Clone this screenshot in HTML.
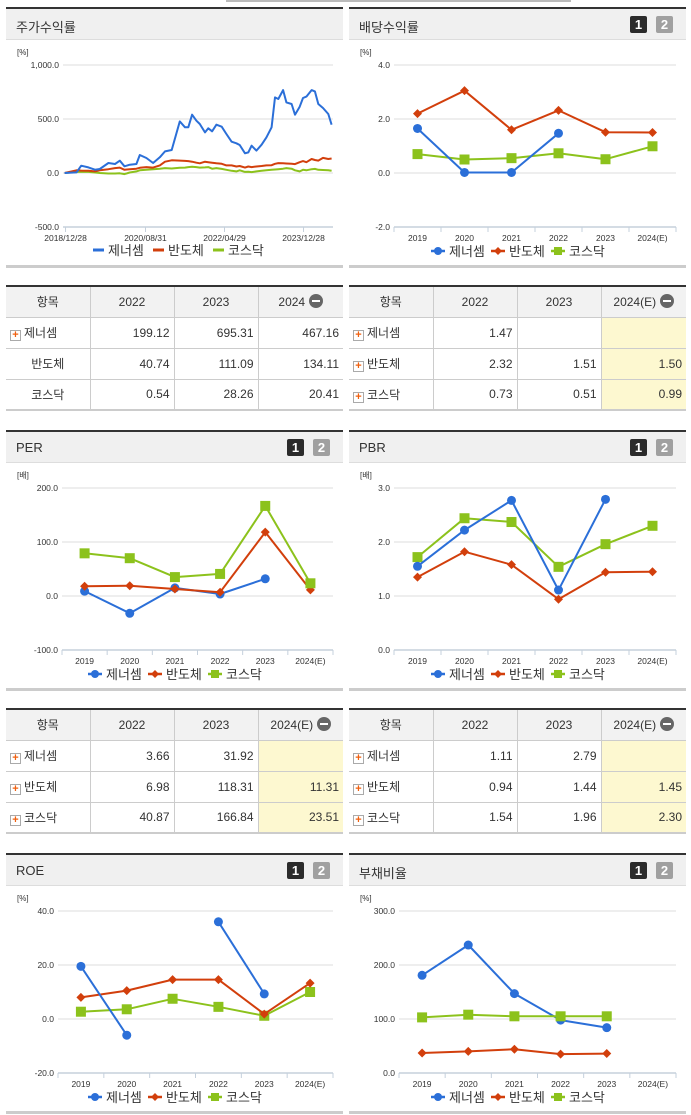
<!DOCTYPE html>
<html><head><meta charset="utf-8">
<style>
*{margin:0;padding:0;box-sizing:border-box}
body{width:691px;height:1115px;background:#fff;position:relative;overflow:hidden;font-family:"Liberation Sans","Noto Sans CJK KR",sans-serif;color:#333}
.panel{position:absolute;border-top:2px solid #333;border-bottom:3px solid #ccc}
.hdr{position:absolute;left:0;right:0;top:0;height:31px;background:#f0f0f0;border-bottom:1px solid #ddd}
.hdr .t{position:absolute;left:10px;top:8px;font-size:13px;color:#333}
.bd{position:absolute;top:7px;width:17px;height:17px;color:#fff;font-size:13px;font-weight:bold;text-align:center;line-height:17px;border-radius:2px}
.b1{background:#2b2b2b}.b2{background:#a0a0a0}
svg{position:absolute;left:0;top:0}
table{position:absolute;border-collapse:collapse;border-top:2px solid #333;border-bottom:2px solid #ccc;font-size:12px;table-layout:fixed}
td,th{height:31px;border-bottom:1px solid #ccc;border-right:1px solid #ccc;font-weight:normal}
th{background:#f2f2f2;text-align:center}
td{text-align:right;padding-right:4px}
td:last-child,th:last-child{border-right:none}
td.n{text-align:left;padding-left:4px}
td.c{text-align:center;padding:0}
.y{background:#fdf8d0}
.pl{display:inline-block;width:11px;height:11px;border:1px solid #aaa;background:#fff;color:#f06010;font-size:11px;line-height:9px;text-align:center;font-weight:bold;vertical-align:-1px;margin-right:3px}
.mi{display:inline-block;width:14px;height:14px;border-radius:7px;background:#666;vertical-align:-2px;position:relative;margin-left:4px}
.mi:after{content:"";position:absolute;left:3px;top:6px;width:8px;height:2px;background:#fff}
</style></head><body>
<div style="position:absolute;left:226px;top:0;width:345px;height:2px;background:#bbb"></div>

<div id="p1" class="panel" style="left:6px;top:7px;width:337px;height:261px"><div class="hdr"><span class="t">주가수익률</span></div></div>
<div id="p2" class="panel" style="left:349px;top:7px;width:337px;height:261px"><div class="hdr"><span class="t">배당수익률</span><span class="bd b1" style="left:281px">1</span><span class="bd b2" style="left:307px">2</span></div></div>
<div id="p3" class="panel" style="left:6px;top:430px;width:337px;height:261px"><div class="hdr"><span class="t">PER</span><span class="bd b1" style="left:281px">1</span><span class="bd b2" style="left:307px">2</span></div></div>
<div id="p4" class="panel" style="left:349px;top:430px;width:337px;height:261px"><div class="hdr"><span class="t">PBR</span><span class="bd b1" style="left:281px">1</span><span class="bd b2" style="left:307px">2</span></div></div>
<div id="p5" class="panel" style="left:6px;top:853px;width:337px;height:261px"><div class="hdr"><span class="t">ROE</span><span class="bd b1" style="left:281px">1</span><span class="bd b2" style="left:307px">2</span></div></div>
<div id="p6" class="panel" style="left:349px;top:853px;width:337px;height:261px"><div class="hdr"><span class="t">부채비율</span><span class="bd b1" style="left:281px">1</span><span class="bd b2" style="left:307px">2</span></div></div>

<table style="left:6px;top:285px;width:337px">
<colgroup><col style="width:84px"><col style="width:84px"><col style="width:84px"><col style="width:85px"></colgroup>
<tr><th>항목</th><th>2022</th><th>2023</th><th>2024<span class="mi"></span></th></tr>
<tr><td class="n"><span class="pl">+</span>제너셈</td><td>199.12</td><td>695.31</td><td>467.16</td></tr>
<tr><td class="c">반도체</td><td>40.74</td><td>111.09</td><td>134.11</td></tr>
<tr><td class="c">코스닥</td><td>0.54</td><td>28.26</td><td>20.41</td></tr>
</table>
<table style="left:349px;top:285px;width:337px">
<colgroup><col style="width:84px"><col style="width:84px"><col style="width:84px"><col style="width:85px"></colgroup>
<tr><th>항목</th><th>2022</th><th>2023</th><th>2024(E)<span class="mi"></span></th></tr>
<tr><td class="n"><span class="pl">+</span>제너셈</td><td>1.47</td><td></td><td class="y"></td></tr>
<tr><td class="n"><span class="pl">+</span>반도체</td><td>2.32</td><td>1.51</td><td class="y">1.50</td></tr>
<tr><td class="n"><span class="pl">+</span>코스닥</td><td>0.73</td><td>0.51</td><td class="y">0.99</td></tr>
</table>
<table style="left:6px;top:708px;width:337px">
<colgroup><col style="width:84px"><col style="width:84px"><col style="width:84px"><col style="width:85px"></colgroup>
<tr><th>항목</th><th>2022</th><th>2023</th><th>2024(E)<span class="mi"></span></th></tr>
<tr><td class="n"><span class="pl">+</span>제너셈</td><td>3.66</td><td>31.92</td><td class="y"></td></tr>
<tr><td class="n"><span class="pl">+</span>반도체</td><td>6.98</td><td>118.31</td><td class="y">11.31</td></tr>
<tr><td class="n"><span class="pl">+</span>코스닥</td><td>40.87</td><td>166.84</td><td class="y">23.51</td></tr>
</table>
<table style="left:349px;top:708px;width:337px">
<colgroup><col style="width:84px"><col style="width:84px"><col style="width:84px"><col style="width:85px"></colgroup>
<tr><th>항목</th><th>2022</th><th>2023</th><th>2024(E)<span class="mi"></span></th></tr>
<tr><td class="n"><span class="pl">+</span>제너셈</td><td>1.11</td><td>2.79</td><td class="y"></td></tr>
<tr><td class="n"><span class="pl">+</span>반도체</td><td>0.94</td><td>1.44</td><td class="y">1.45</td></tr>
<tr><td class="n"><span class="pl">+</span>코스닥</td><td>1.54</td><td>1.96</td><td class="y">2.30</td></tr>
</table>

<script>
// ---- stock return data ----
const stockDates=[2018.97,2019.22,2019.32,2019.47,2019.61,2019.71,2019.89,2020.03,2020.13,2020.23,2020.34,2020.48,2020.55,2020.69,2020.83,2020.97,2021.08,2021.22,2021.39,2021.50,2021.57,2021.65,2021.74,2021.81,2021.92,2021.99,2022.07,2022.16,2022.27,2022.37,2022.48,2022.58,2022.65,2022.76,2022.83,2022.90,2023.00,2023.11,2023.21,2023.32,2023.39,2023.46,2023.56,2023.63,2023.74,2023.81,2023.91,2023.98,2024.05,2024.16,2024.23,2024.30,2024.40,2024.51,2024.58];
const stockGenesem=[0,6,68,52,31,37,93,83,114,62,77,83,167,139,93,145,200,213,478,423,423,540,484,454,376,414,386,447,429,361,290,275,259,182,191,253,207,262,330,423,700,685,768,654,639,540,614,694,707,768,756,639,602,546,447];
const stockSemi=[0,25,22,20,15,25,35,45,50,30,35,40,48,55,50,70,105,118,115,112,110,105,95,90,105,100,95,90,85,70,70,60,65,50,60,55,60,65,70,72,85,92,90,88,85,82,100,110,100,130,120,115,140,130,134];
const stockKosdaq=[0,10,12,10,5,0,-5,-5,-3,-10,5,15,25,30,35,40,45,42,48,50,55,58,55,50,52,55,40,45,38,30,20,15,25,10,12,8,15,20,25,30,32,35,40,45,40,25,15,30,25,35,38,30,28,25,20];
const stockTickLabels=["2018/12/28","2020/08/31","2022/04/29","2023/12/28"];
const stockTickDates=[2018.99,2020.67,2022.33,2023.99];
const stockYTicks=[1000,500,0,-500];
const stockYLabels=["1,000.0","500.0","0.0","-500.0"];
// ---- annual charts ----
const years=["2019","2020","2021","2022","2023","2024(E)"];
const divGenesem=[1.65,0.02,0.02,1.47,null,null];
const divSemi=[2.2,3.05,1.6,2.32,1.51,1.50];
const divKosdaq=[0.7,0.5,0.55,0.73,0.51,0.99];
const divTicks=[4,2,0,-2];
const perGenesem=[9,-32,15,3.66,31.92,null];
const perSemi=[18,19,13,6.98,118.31,11.31];
const perKosdaq=[79,70,35,40.87,166.84,23.51];
const perTicks=[200,100,0,-100];
const pbrGenesem=[1.55,2.22,2.77,1.11,2.79,null];
const pbrSemi=[1.35,1.82,1.58,0.94,1.44,1.45];
const pbrKosdaq=[1.72,2.44,2.37,1.54,1.96,2.30];
const pbrTicks=[3,2,1,0];
const roeGenesem=[19.5,-6,null,36,9.3,null];
const roeSemi=[8,10.5,14.6,14.6,1.8,13.3];
const roeKosdaq=[2.7,3.6,7.5,4.5,1.2,10];
const roeTicks=[40,20,0,-20];
const debtGenesem=[181,237,147,98,84,null];
const debtSemi=[37,40,44,35,36,null];
const debtKosdaq=[103,108,105,105,105,null];
const debtTicks=[300,200,0+100,0];

const NS="http://www.w3.org/2000/svg";
const COL={b:"#2b6fd8",r:"#d23f0c",g:"#8cc21c"};
function mk(tag,attrs,parent){const e=document.createElementNS(NS,tag);for(const k in attrs)e.setAttribute(k,attrs[k]);if(parent)parent.appendChild(e);return e;}
function txt(parent,x,y,s,size,anchor,fill){const t=mk("text",{x:x,y:y,"font-size":size,"text-anchor":anchor||"start",fill:fill||"#333","font-family":"Liberation Sans, Noto Sans CJK KR, sans-serif"},parent);t.textContent=s;return t;}

function baseSvg(panelId){
  const p=document.getElementById(panelId);
  const s=mk("svg",{width:337,height:256},p);
  
  
  return s;
}
function legend(s,cx,y){
  const items=[["b","제너셈"],["r","반도체"],["g","코스닥"]];
  const g=mk("g",{},s);
  
  
  let x=cx-88;
  items.forEach(([c,l],i)=>{
    const it=mk("g",{},g);
    
    
    mk("line",{x1:x,y1:y,x2:x+14,y2:y,stroke:COL[c],"stroke-width":2.5},it);
    if(c==="b")mk("circle",{cx:x+7,cy:y,r:4,fill:COL.b},it);
    if(c==="r")mk("path",{d:`M${x+7} ${y-4}L${x+11} ${y}L${x+7} ${y+4}L${x+3} ${y}Z`,fill:COL.r},it);
    if(c==="g")mk("rect",{x:x+3,y:y-4,width:8,height:8,fill:COL.g},it);
    txt(it,x+18,y+5,l,13);
    x+=60;
  });
}
function marker(g,c,x,y){
  let m;
  if(c==="b")m=mk("circle",{cx:x,cy:y,r:4.5,fill:COL.b},g);
  if(c==="r")m=mk("path",{d:`M${x} ${y-4.5}L${x+4.5} ${y}L${x} ${y+4.5}L${x-4.5} ${y}Z`,fill:COL.r},g);
  if(c==="g")m=mk("rect",{x:x-5,y:y-5,width:10,height:10,fill:COL.g},g);
  
  
}
// annual chart: plot area top=56 bottom=218 (panel coords)
function annual(panelId,unit,ticks,pl,series){
  const s=baseSvg(panelId);
  const pr=327, top=56, bot=218;
  const vmax=ticks[0], vmin=ticks[ticks.length-1];
  const Y=v=>top+(vmax-v)/(vmax-vmin)*(bot-top);
  const bw=(pr-pl)/years.length;
  const X=i=>pl+(i+0.5)*bw;
  txt(s,11,46,unit,8);
  ticks.forEach(t=>{
    const gl=mk("line",{x1:pl,x2:pr,y1:Y(t),y2:Y(t),stroke:"#dcdcdc","stroke-width":1},s);
    
    
    const lb=txt(s,pl-4,Y(t)+3,t.toFixed(1),8.5,"end");
    
    
  });
  mk("line",{x1:pl,x2:pr,y1:bot,y2:bot,stroke:"#c5d0dc","stroke-width":1.5},s);
  for(let i=0;i<=years.length;i++)mk("line",{x1:pl+i*bw,x2:pl+i*bw,y1:bot,y2:bot+5,stroke:"#c5d0dc"},s);
  years.forEach((y,i)=>{const l=txt(s,X(i),bot+14,y,8.5,"middle");});
  series.forEach(([c,vals])=>{
    const g=mk("g",{},s);
    
    
    let d="",pen=false;
    vals.forEach((v,i)=>{if(v===null){pen=false;return;}d+=(pen?"L":"M")+X(i).toFixed(1)+" "+Y(v).toFixed(1);pen=true;});
    mk("path",{d:d,fill:"none",stroke:COL[c],"stroke-width":2,"stroke-linejoin":"round"},g);
    vals.forEach((v,i)=>{if(v!==null)marker(g,c,X(i),Y(v));});
  });
  legend(s,170,242);
}
// stock chart
(function(){
  const s=baseSvg("p1");
  const pl=57, pr=327, top=56, bot=218;
  const Y=v=>top+(1000-v)/1500*(bot-top);
  const X=d=>60+(d-2019.0)*47.6;
  txt(s,11,46,"[%]",8);
  stockYTicks.forEach((t,i)=>{
    mk("line",{x1:pl,x2:pr,y1:Y(t),y2:Y(t),stroke:"#dcdcdc"},s);
    const lb=txt(s,pl-4,Y(t)+3,stockYLabels[i],8.5,"end");
    
    
  });
  mk("line",{x1:pl,x2:pr,y1:bot,y2:bot,stroke:"#c5d0dc","stroke-width":1.5},s);
  stockTickDates.forEach((d,i)=>{
    mk("line",{x1:X(d),x2:X(d),y1:bot,y2:bot+5,stroke:"#c5d0dc"},s);
    const l=txt(s,X(d),bot+14,stockTickLabels[i],8.5,"middle");
    
    
  });
  [["g",stockKosdaq],["r",stockSemi],["b",stockGenesem]].forEach(([c,vals])=>{
    const d=vals.map((v,i)=>(i?"L":"M")+X(stockDates[i]).toFixed(1)+" "+Y(v).toFixed(1)).join("");
    const p=mk("path",{d:d,fill:"none",stroke:COL[c],"stroke-width":2,"stroke-linejoin":"round"},s);
    
    
  });
  const g=mk("g",{},s);
  
  
  let x=87;
  [["b","제너셈"],["r","반도체"],["g","코스닥"]].forEach(([c,l])=>{
    const it=mk("g",{},g);
    
    
    mk("line",{x1:x,y1:241,x2:x+11,y2:241,stroke:COL[c],"stroke-width":3},it);
    txt(it,x+15,246,l,13);
    x+=60;
  });
})();
annual("p2","[%]",divTicks,45,[["g",divKosdaq],["r",divSemi],["b",divGenesem]]);
annual("p3","[배]",perTicks,56,[["b",perGenesem],["r",perSemi],["g",perKosdaq]]);
annual("p4","[배]",pbrTicks,45,[["g",pbrKosdaq],["r",pbrSemi],["b",pbrGenesem]]);
annual("p5","[%]",roeTicks,52,[["g",roeKosdaq],["r",roeSemi],["b",roeGenesem]]);
annual("p6","[%]",debtTicks,50,[["b",debtGenesem],["r",debtSemi],["g",debtKosdaq]]);
</script>
</body></html>
